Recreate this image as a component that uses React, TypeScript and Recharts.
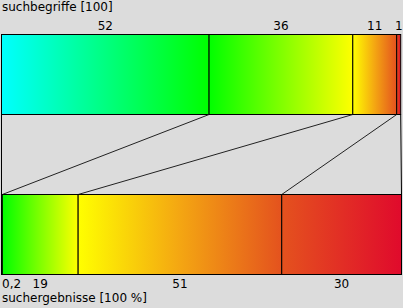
import { BarChart, Bar, XAxis, YAxis, LabelList } from "recharts";

const rowNames = ["suchbegriffe", "gap", "suchergebnisse"];
const begriffe = [52, 36, 11, 1];
const ergebnisse = [0.2, 19, 51, 30];
const titleTop = "suchbegriffe [100]";
const titleBottom = "suchergebnisse [100 %]";

// each segment has its own gradient: start, middle, end
const segColors = [
  ["#00ffff", "#00ff80", "#00ff00"],
  ["#00ff00", "#80ff00", "#ffff00"],
  ["#ffff00", "#f4a612", "#e4521e"],
  ["#e4521e", "#e22e25", "#e00a2c"],
];

const keys = begriffe.map((_, i) => `s${i}`);

const toRow = (name: string, vals: number[] | null) => {
  const row: any = { name };
  if (vals) vals.forEach((v, i) => (row[keys[i]] = v));
  return row;
};

const data = [
  toRow(rowNames[0], begriffe),
  toRow(rowNames[1], null),
  toRow(rowNames[2], ergebnisse),
];

const sum = (a: number[]) => a.reduce((s, v) => s + v, 0);
const font = "DejaVu Sans";

function Segment(props: any) {
  const { x, y, width, height, payload, seg } = props;
  if (!payload || payload.name === "gap" || !height) return null;
  const id = `grad-${payload.name}-${seg}`;
  const c = segColors[seg];
  const extra: any[] = [];
  if (payload.name === rowNames[0]) {
    const unit = width / begriffe[seg];
    const left = x - sum(begriffe.slice(0, seg)) * unit;
    const bx = left + sum(ergebnisse.slice(0, seg + 1)) * unit;
    const yb = y + height;
    const yt = y + 2 * height;
    const last = seg === begriffe.length - 1;
    extra.push(
      <line key="c" x1={x + width} y1={yb} x2={bx} y2={yt} stroke={last ? "#000" : "#222"} strokeWidth={1} />
    );
    if (seg === 0) {
      extra.push(<line key="l" x1={x} y1={yb} x2={x} y2={yt} stroke="#000" strokeWidth={1} />);
    }
  }
  return (
    <g>
      <defs>
        <linearGradient id={id} x1="0" y1="0" x2="1" y2="0">
          <stop offset="0%" stopColor={c[0]} />
          <stop offset="50%" stopColor={c[1]} />
          <stop offset="100%" stopColor={c[2]} />
        </linearGradient>
      </defs>
      <rect x={x} y={y} width={width} height={height} fill={`url(#${id})`} stroke="#000" strokeWidth={1} />
      {extra}
    </g>
  );
}

const fmt = (v: number) => String(v).replace(".", ",");

function SegLabel(props: any) {
  const { x, y, width, height, value, index, seg } = props;
  if (value === undefined || value === null || index === 1) return null;
  const txt = fmt(value);
  const est = txt.length * 7;
  let cx = x + width / 2;
  let anchor = "middle";
  if (seg === 0 && width < est) {
    cx = x + 0.5;
    anchor = "start";
  }
  const ty = index === 0 ? y - 5 : y + height + 13;
  return (
    <text x={cx} y={ty} textAnchor={anchor} fontFamily={font} fontSize={12} fill="#000">
      {txt}
    </text>
  );
}

export default function App() {
  return (
    <div style={{ position: "relative", width: 403, height: 308, background: "#dcdcdc" }}>
      <style>{`body{margin:0;background:#dcdcdc}`}</style>
      <BarChart
        width={403}
        height={308}
        data={data}
        layout="vertical"
        barCategoryGap={0}
        margin={{ top: 34.5, right: 1.5, bottom: 33.5, left: 1.5 }}
      >
        <XAxis type="number" domain={[0, 100]} hide />
        <YAxis type="category" dataKey="name" hide />
        {keys.map((k, i) => (
          <Bar
            key={k}
            dataKey={k}
            stackId="a"
            isAnimationActive={false}
            shape={(p: any) => <Segment {...p} seg={i} />}
          >
            <LabelList dataKey={k} content={(p: any) => <SegLabel {...p} seg={i} />} />
          </Bar>
        ))}
      </BarChart>
      <svg width={403} height={308} style={{ position: "absolute", left: 0, top: 0, pointerEvents: "none" }}>
        <text x={2} y={11} fontFamily={font} fontSize={12} fill="#000">
          {titleTop}
        </text>
        <text x={2} y={302} fontFamily={font} fontSize={12} fill="#000">
          {titleBottom}
        </text>
      </svg>
    </div>
  );
}
